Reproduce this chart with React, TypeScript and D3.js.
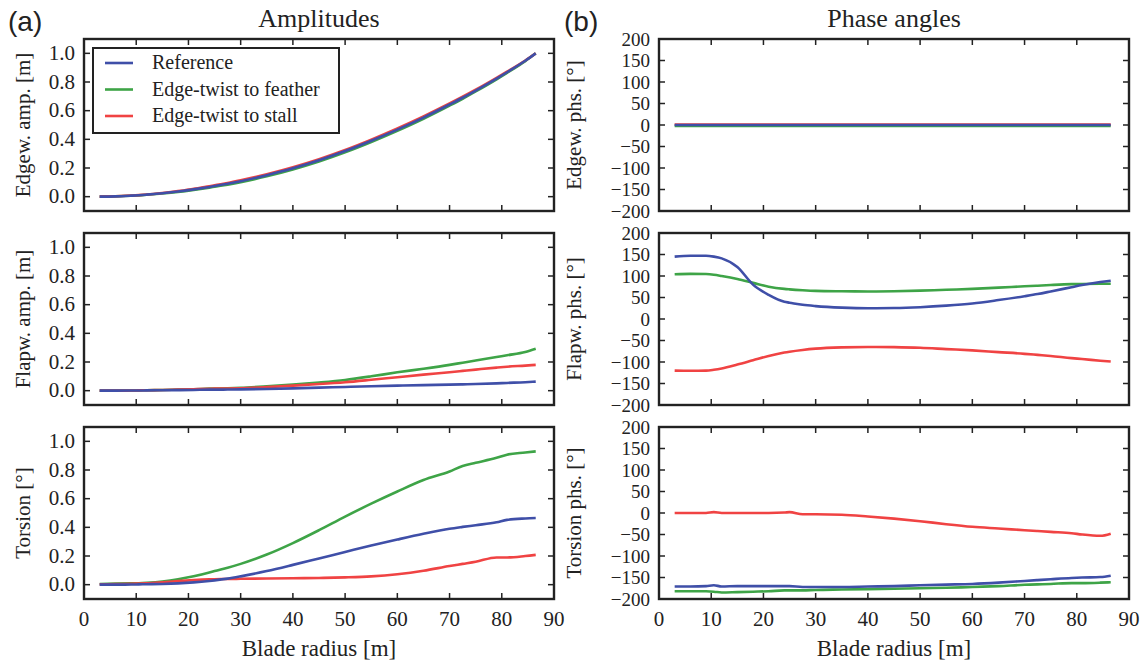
import React from "react";
import * as d3 from "d3";

// ---- data ----
const radius = [3, 6, 9, 10.5, 12, 15, 18, 21, 24, 25, 27.5, 30, 35, 40, 45, 50, 55, 60, 65, 70, 72.5, 75, 79, 81, 84.5, 86.5];

const edgeAmpRef = [0, 0.002, 0.007, 0.01, 0.014, 0.024, 0.036, 0.051, 0.068, 0.074, 0.09, 0.108, 0.15, 0.198, 0.254, 0.318, 0.39, 0.468, 0.552, 0.643, 0.69, 0.74, 0.824, 0.868, 0.948, 1.0];
const edgeAmpFeather = [0, 0.002, 0.006, 0.009, 0.013, 0.022, 0.033, 0.047, 0.063, 0.069, 0.084, 0.101, 0.142, 0.19, 0.245, 0.309, 0.381, 0.459, 0.543, 0.635, 0.683, 0.734, 0.819, 0.864, 0.946, 1.0];
const edgeAmpStall = [0, 0.003, 0.008, 0.011, 0.015, 0.026, 0.039, 0.055, 0.072, 0.079, 0.095, 0.114, 0.157, 0.206, 0.262, 0.326, 0.398, 0.476, 0.56, 0.65, 0.697, 0.746, 0.829, 0.872, 0.95, 1.0];

const flapAmpRef = [0, 0, 0.001, 0.001, 0.002, 0.003, 0.004, 0.005, 0.007, 0.007, 0.008, 0.009, 0.012, 0.016, 0.021, 0.026, 0.031, 0.035, 0.039, 0.042, 0.044, 0.046, 0.051, 0.054, 0.059, 0.063];
const flapAmpFeather = [0, 0, 0.001, 0.002, 0.003, 0.005, 0.007, 0.01, 0.014, 0.015, 0.017, 0.02, 0.03, 0.042, 0.057, 0.075, 0.1, 0.128, 0.153, 0.18, 0.195, 0.21, 0.235, 0.247, 0.269, 0.292];
const flapAmpStall = [0, 0, 0.001, 0.002, 0.003, 0.005, 0.007, 0.01, 0.013, 0.014, 0.015, 0.017, 0.025, 0.035, 0.046, 0.059, 0.076, 0.094, 0.112, 0.129, 0.138, 0.147, 0.161, 0.167, 0.175, 0.18];

const torsionRef = [0, 0, 0.001, 0.002, 0.003, 0.005, 0.009, 0.016, 0.026, 0.03, 0.042, 0.058, 0.095, 0.138, 0.183, 0.228, 0.273, 0.315, 0.355, 0.39, 0.403, 0.415, 0.435, 0.452, 0.462, 0.465];
const torsionFeather = [0.005, 0.007, 0.009, 0.01, 0.013, 0.022, 0.037, 0.058, 0.085, 0.095, 0.118, 0.145, 0.21, 0.29, 0.38, 0.475, 0.565, 0.65, 0.73, 0.79, 0.828, 0.85, 0.885, 0.907, 0.922, 0.93];
const torsionStall = [0.002, 0.004, 0.006, 0.008, 0.01, 0.017, 0.025, 0.032, 0.037, 0.038, 0.04, 0.041, 0.043, 0.045, 0.047, 0.051, 0.058, 0.073, 0.097, 0.13, 0.145, 0.16, 0.19, 0.19, 0.2, 0.208];

const edgePhsRef = [0, 0, 0, 0, 0, 0, 0, 0, 0, 0, 0, 0, 0, 0, 0, 0, 0, 0, 0, 0, 0, 0, 0, 0, 0, 0];
const edgePhsFeather = [-2, -2, -2, -2, -2, -2, -2, -2, -2, -2, -2, -2, -2, -2, -2, -2, -2, -2, -2, -2, -2, -2, -2, -2, -2, -2];
const edgePhsStall = [1, 1, 1, 1, 1, 1, 1, 1, 1, 1, 1, 1, 1, 1, 1, 1, 1, 1, 1, 1, 1, 1, 1, 1, 1, 1];

const flapPhsRef = [145, 147, 147, 145, 141, 121, 80, 56, 40, 38, 33, 30, 26.5, 25, 25.5, 27.5, 31, 36, 44, 53, 58, 64, 74, 79, 86, 89];
const flapPhsFeather = [104, 105, 104.5, 103, 100, 93, 84, 75, 70, 69, 67, 65.5, 64.5, 64, 64.5, 66, 68, 70, 73, 76, 77.5, 79, 81, 81.5, 82, 82];
const flapPhsStall = [-120, -120.5, -120, -118, -115, -106, -96, -86, -78, -76, -72, -69, -66, -65, -65.5, -67, -70, -73, -77, -81, -83.5, -86, -91, -93, -97, -99];

const torsPhsRef = [-171, -171, -170, -168, -171, -170, -170, -170, -170, -170, -172, -172, -172, -171, -170, -168, -166.5, -165, -162, -158, -156, -154, -151, -150, -149, -146];
const torsPhsFeather = [-182, -182, -182, -183, -185, -184, -183, -182, -180, -180, -180, -179, -178, -177, -176, -175, -174, -172, -170, -167, -166, -165, -163, -163, -162, -161];
const torsPhsStall = [0, 0, 0, 2, 0, 0, 0, 0, 1, 2, -3, -3, -4, -8, -13, -19, -26, -32, -36, -40, -42, -44, -47, -50, -53, -48];

const seriesNames = ["Reference", "Edge-twist to feather", "Edge-twist to stall"];
const seriesColors = ["#3f4fa8", "#3ea447", "#f04343"];

const xTicks = [0, 10, 20, 30, 40, 50, 60, 70, 80, 90];
const ampTicks = [0, 0.2, 0.4, 0.6, 0.8, 1.0];
const phsTicks = [-200, -150, -100, -50, 0, 50, 100, 150, 200];

const ampLabels = ["Edgew. amp. [m]", "Flapw. amp. [m]", "Torsion [\u00b0]"];
const phsLabels = ["Edgew. phs. [\u00b0]", "Flapw. phs. [\u00b0]", "Torsion phs. [\u00b0]"];

// ---- layout ----
const W = 1142, H = 662;
const colX = [84, 659];
const panelW = 470;
const rowY = [39, 233, 427];
const panelH = 172;
const SERIF = '"Liberation Serif", "DejaVu Serif", serif';
const SANS = '"Liberation Sans", "DejaVu Sans", sans-serif';
const FRAME = "#222";

const ampData = [
  [edgeAmpRef, edgeAmpFeather, edgeAmpStall],
  [flapAmpRef, flapAmpFeather, flapAmpStall],
  [torsionRef, torsionFeather, torsionStall],
];
const phsData = [
  [edgePhsRef, edgePhsFeather, edgePhsStall],
  [flapPhsRef, flapPhsFeather, flapPhsStall],
  [torsPhsRef, torsPhsFeather, torsPhsStall],
];

const fmtPhs = (v: number) => (v < 0 ? "\u2212" + Math.abs(v) : String(v));
const fmtAmp = (v: number) => v.toFixed(1);

const serifStyle = (size: number) => ({ fontFamily: SERIF, fontSize: size + "px", fill: "#222" });

function Panel({ x0, y0, domain, ticks, fmt, tickSize, data, ylabel, ylabelX, showX, legend }: any) {
  const xs = d3.scaleLinear().domain([0, 90]).range([x0, x0 + panelW]);
  const ys = d3.scaleLinear().domain(domain).range([y0 + panelH, y0]);
  const line = d3
    .line<number>()
    .x((_, i) => xs(radius[i]))
    .y((d) => ys(d))
    .curve(d3.curveMonotoneX);
  const order = [1, 2, 0];
  const tl = 6;
  return (
    <g>
      {order.map((si) => (
        <path key={si} d={line(data[si]) || ""} fill="none" stroke={seriesColors[si]} strokeWidth={2.6} strokeLinejoin="round" strokeLinecap="butt" />
      ))}
      {xTicks.map((t) => (
        <g key={"xt" + t}>
          <line x1={xs(t)} x2={xs(t)} y1={y0} y2={y0 + tl} stroke={FRAME} strokeWidth={1.5} />
          <line x1={xs(t)} x2={xs(t)} y1={y0 + panelH} y2={y0 + panelH - tl} stroke={FRAME} strokeWidth={1.5} />
          {showX && (
            <text x={xs(t)} y={y0 + panelH + 27} textAnchor="middle" style={serifStyle(21)}>
              {t}
            </text>
          )}
        </g>
      ))}
      {ticks.map((t: number) => (
        <g key={"yt" + t}>
          <line x1={x0} x2={x0 + tl} y1={ys(t)} y2={ys(t)} stroke={FRAME} strokeWidth={1.5} />
          <line x1={x0 + panelW} x2={x0 + panelW - tl} y1={ys(t)} y2={ys(t)} stroke={FRAME} strokeWidth={1.5} />
          <text x={x0 - 9} y={ys(t) + 6.5} textAnchor="end" style={serifStyle(tickSize)}>
            {fmt(t)}
          </text>
        </g>
      ))}
      <rect x={x0} y={y0} width={panelW} height={panelH} fill="none" stroke={FRAME} strokeWidth={2.4} />
      <text
        transform={`translate(${ylabelX},${y0 + panelH / 2}) rotate(-90)`}
        textAnchor="middle"
        style={serifStyle(21)}
      >
        {ylabel}
      </text>
      {showX && (
        <text x={x0 + panelW / 2} y={y0 + panelH + 57} textAnchor="middle" style={serifStyle(23)}>
          Blade radius [m]
        </text>
      )}
      {legend && (
        <g>
          <rect x={93} y={48} width={246} height={85} fill="white" stroke={FRAME} strokeWidth={2} />
          {seriesNames.map((n, i) => (
            <g key={n}>
              <line x1={105} x2={133} y1={63 + i * 26.5} y2={63 + i * 26.5} stroke={seriesColors[i]} strokeWidth={2.6} />
              <text x={152} y={63 + i * 26.5 + 6} style={serifStyle(20)}>
                {n}
              </text>
            </g>
          ))}
        </g>
      )}
    </g>
  );
}

export default function App() {
  return (
    <svg width={W} height={H} style={{ position: "absolute", left: 0, top: 0, background: "white" }}>
      <rect x={0} y={0} width={W} height={H} fill="white" />
      <text x={8} y={31} style={{ fontFamily: SANS, fontSize: "28px", fill: "#222" }}>(a)</text>
      <text x={564} y={31} style={{ fontFamily: SANS, fontSize: "28px", fill: "#222" }}>(b)</text>
      <text x={colX[0] + panelW / 2} y={27} textAnchor="middle" style={serifStyle(26)}>Amplitudes</text>
      <text x={colX[1] + panelW / 2} y={27} textAnchor="middle" style={serifStyle(26)}>Phase angles</text>
      {rowY.map((y0, r) => (
        <Panel
          key={"a" + r}
          x0={colX[0]}
          y0={y0}
          domain={[-0.1, 1.1]}
          ticks={ampTicks}
          fmt={fmtAmp}
          tickSize={21}
          data={ampData[r]}
          ylabel={ampLabels[r]}
          ylabelX={30}
          showX={r === 2}
          legend={r === 0}
        />
      ))}
      {rowY.map((y0, r) => (
        <Panel
          key={"p" + r}
          x0={colX[1]}
          y0={y0}
          domain={[-200, 200]}
          ticks={phsTicks}
          fmt={fmtPhs}
          tickSize={19}
          data={phsData[r]}
          ylabel={phsLabels[r]}
          ylabelX={581}
          showX={r === 2}
          legend={false}
        />
      ))}
    </svg>
  );
}
